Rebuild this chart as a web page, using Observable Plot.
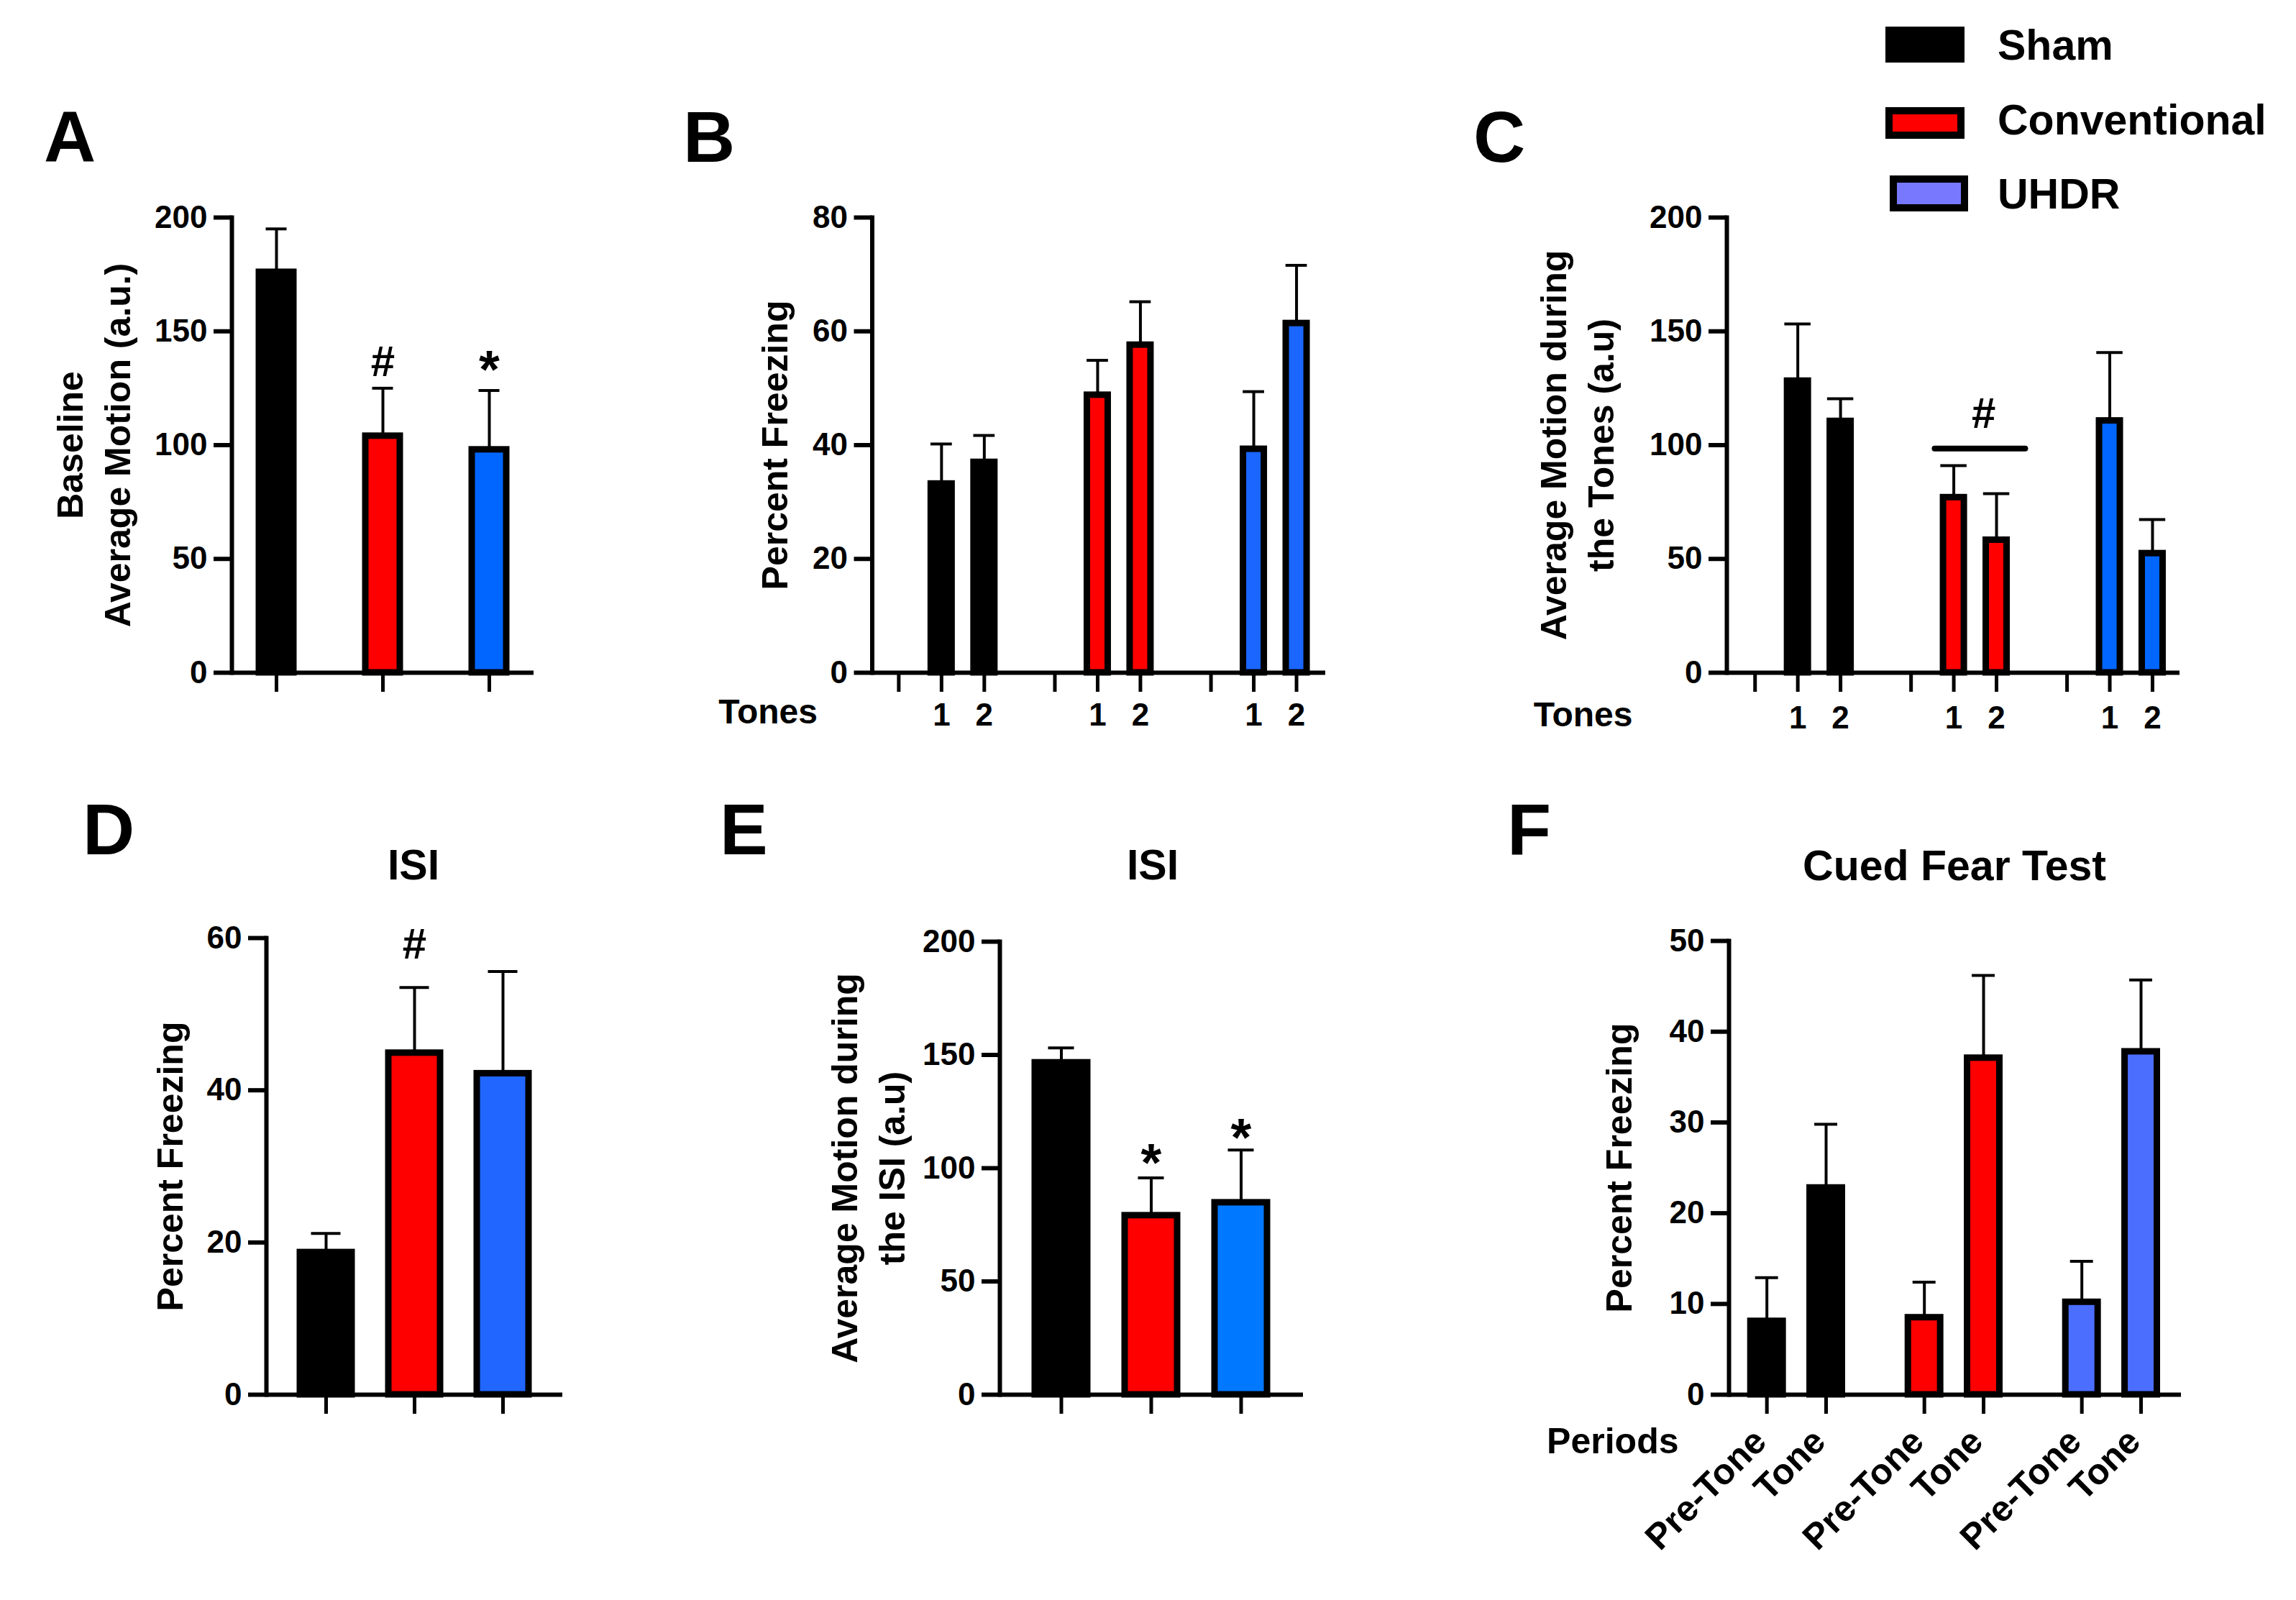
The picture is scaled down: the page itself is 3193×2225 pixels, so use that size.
<!DOCTYPE html>
<html lang="en">
<head>
    <meta charset="UTF-8">
    <script src="https://cdn.jsdelivr.net/npm/d3@7"></script>
    <script src="https://cdn.jsdelivr.net/npm/@observablehq/plot@0.6"></script>
    <title>Fear conditioning</title>
    <style>
        body { margin: 0; background: white; }
        #fig { position: relative; width: 3193px; height: 2225px; background: white; overflow: hidden;
               font-family: "Liberation Sans", Arial, sans-serif; font-weight: bold; color: black; }
        .letter { position: absolute; font-size: 100px; line-height: 1; }
        .title { position: absolute; font-size: 59px; line-height: 1; white-space: nowrap; transform: translate(-50%, -50%); }
        .key { position: absolute; box-sizing: border-box; border: 10px solid black; }
        .keylabel { position: absolute; font-size: 59px; line-height: 1; white-space: nowrap; transform: translateY(-50%); }
    </style>
</head>
<body>
<div id="fig"></div>
<script>
// ---- data ----
const groups = ["Sham", "Conventional", "UHDR"];
const tones = ["1", "2"];
const periods = ["Pre-Tone", "Tone"];

// A  baseline average motion
const baselineMean = [176, 104, 98];
const baselineErr = [19, 21, 26];
// B  percent freezing, tones 1-2 per group
const toneFreezeMean = [33.2, 37.0, 48.8, 57.6, 39.3, 61.4];
const toneFreezeErr = [7.0, 4.7, 6.1, 7.6, 10.1, 10.2];
// C  average motion during the tones
const toneMotionMean = [128.2, 110.5, 77.0, 58.3, 110.7, 52.4];
const toneMotionErr = [25.0, 9.9, 14.0, 20.4, 30.0, 14.9];
// D  ISI percent freezing
const isiFreezeMean = [18.7, 44.9, 42.2];
const isiFreezeErr = [2.5, 8.6, 13.4];
// E  ISI average motion
const isiMotionMean = [146.6, 79.1, 84.8];
const isiMotionErr = [6.5, 16.6, 23.2];
// F  cued fear test, pre-tone / tone per group
const cuedMean = [8.1, 22.8, 8.5, 37.1, 10.2, 37.8];
const cuedErr = [4.8, 7.0, 3.9, 9.1, 4.5, 7.9];

// significance marks (group, level in data units, symbol)
const sigA = {group: ["Conventional", "UHDR"], level: [136.5, 138.5], sym: ["#", "*"]};
const sigD = {group: ["Conventional"], level: [59.1], sym: ["#"]};
const sigE = {group: ["Conventional", "UHDR"], level: [107.8, 118.7], sym: ["*", "*"]};
const sigC = {level: 113.7, bar: 98.5};

const ticks200 = [0, 50, 100, 150, 200];
const ticks80 = [0, 20, 40, 60, 80];
const ticks60 = [0, 20, 40, 60];
const ticks50 = [0, 10, 20, 30, 40, 50];

// ---- styling ----
const FONT = "'Liberation Sans', Arial, sans-serif";
const RED = "#ff0000";
const paletteA = ["#000000", RED, "#0066ff"];
const paletteB = ["#000000", RED, "#1a66ff"];
const paletteD = ["#000000", RED, "#2166ff"];
const paletteE = ["#000000", RED, "#0078ff"];
const paletteF = ["#000000", RED, "#4b6eff"];
const legendColors = ["#000000", RED, "#7878ff"];

const fig = document.getElementById("fig");

function draw(box, frame, options) {
    const svg = Plot.plot({
        width: box.w,
        height: box.h,
        marginLeft: frame.l - box.x,
        marginRight: box.x + box.w - frame.r,
        marginTop: frame.t - box.y,
        marginBottom: box.y + box.h - frame.b,
        style: `font-family: ${FONT}; font-weight: bold; background: transparent; color: black; overflow: visible;`,
        color: {type: "identity"},
        ...options
    });
    svg.style.position = "absolute";
    svg.style.left = box.x + "px";
    svg.style.top = box.y + "px";
    fig.append(svg);
}

function yAxis(ticks, label, dx) {
    return [
        Plot.axisY(ticks, {tickSize: 25, tickPadding: 9, strokeWidth: 6, fontSize: 44, label: null}),
        Plot.frame({anchor: "left", strokeWidth: 6}),
        Plot.ruleY([0], {strokeWidth: 6}),
        Plot.text([label], {frameAnchor: "left", textAnchor: "middle", rotate: -90, dx, fontSize: 50, lineHeight: 1.33})
    ];
}

function sigMarks(sig) {
    const rows = sig.sym.map((s, i) => ({x: sig.group[i], y: sig.level[i], s}));
    return [
        Plot.text(rows.filter(d => d.s === "#"), {x: "x", y: "y", text: "s", fontSize: 60}),
        Plot.text(rows.filter(d => d.s === "*"), {x: "x", y: "y", text: "s", fontSize: 74, dy: 18})
    ];
}

// three bars on a band scale (A, D, E)
function bandPanel(box, frame, s) {
    const rows = groups.map((g, i) => ({
        group: g, mean: s.mean[i], top: s.mean[i] + s.err[i], color: s.palette[i]
    }));
    draw(box, frame, {
        x: {type: "band", domain: groups, paddingInner: s.pi, paddingOuter: s.po},
        y: {domain: [0, d3.max(s.ticks)]},
        marks: [
            Plot.ruleX(rows, {x: "group", y1: "mean", y2: "top", strokeWidth: 4}),
            Plot.tickY(rows, {x: "group", y: "top", strokeWidth: 4, inset: s.capInset}),
            Plot.barY(rows, {x: "group", y: "mean", fill: "color", stroke: "black", strokeWidth: 9}),
            ...yAxis(s.ticks, s.label, s.labelDx),
            Plot.axisX({tickSize: 27, strokeWidth: 5, tickFormat: () => "", label: null}),
            ...(s.sig ? sigMarks(s.sig) : [])
        ]
    });
}

// grouped bars on slot positions (B, C, F)
function slotPanel(box, frame, s) {
    const rows = [];
    const blanks = [];
    groups.forEach((g, gi) => {
        if (s.blank) blanks.push(gi * s.G);
        s.labels.forEach((lab, ti) => {
            const i = gi * s.labels.length + ti;
            const pos = gi * s.G + ti + (s.blank ? 1 : 0);
            rows.push({group: g, label: lab, pos, mean: s.mean[i], top: s.mean[i] + s.err[i], color: s.palette[gi]});
        });
    });
    const tickLabel = new Map(rows.map(d => [d.pos, d.label]));
    const tickPos = [...blanks, ...rows.map(d => d.pos)];
    draw(box, frame, {
        x: {type: "linear", domain: s.domain},
        y: {domain: [0, d3.max(s.ticks)]},
        marks: [
            Plot.ruleX(rows, {x: "pos", y1: "mean", y2: "top", strokeWidth: 4}),
            Plot.ruleY(rows, {y: "top", x1: d => d.pos - s.cap, x2: d => d.pos + s.cap, strokeWidth: 4}),
            Plot.rectY(rows, {x1: d => d.pos - s.hw, x2: d => d.pos + s.hw, y1: 0, y2: "mean",
                fill: "color", stroke: "black", strokeWidth: 9}),
            ...yAxis(s.ticks, s.label, s.labelDx),
            Plot.axisX(tickPos, {tickSize: 27, strokeWidth: 5, tickPadding: s.tickPadding ?? 15, fontSize: 44,
                tickFormat: s.rotate ? () => "" : (p => tickLabel.get(p) ?? ""), label: null}),
            ...(s.rotate ? [Plot.text(rows, {x: "pos", frameAnchor: "bottom", text: "label", rotate: -45,
                textAnchor: "end", dx: 2, dy: 68, fontSize: 50})] : []),
            Plot.text([s.rowLabel], {frameAnchor: "bottom-left", textAnchor: "end", dx: s.rowDx, dy: s.rowDy,
                fontSize: s.rowFont}),
            ...(s.extra ? s.extra(rows) : [])
        ]
    });
}

// ---- panels ----
bandPanel({x: 0, y: 0, w: 960, h: 1090}, {l: 322, r: 742, t: 302, b: 935}, {
    mean: baselineMean, err: baselineErr, palette: paletteA, ticks: ticks200,
    pi: 0.675, po: 0.252, capInset: 9.5,
    label: "Baseline\nAverage Motion (a.u.)", labelDx: -196, sig: sigA
});

slotPanel({x: 960, y: 0, w: 1000, h: 1090}, {l: 1212.5, r: 1843, t: 302, b: 935}, {
    mean: toneFreezeMean, err: toneFreezeErr, palette: paletteB, ticks: ticks80,
    labels: tones, blank: true, G: 3.65, domain: [-0.62, 9.98], hw: 0.244, cap: 0.25,
    label: "Percent Freezing", labelDx: -139,
    rowLabel: "Tones", rowDx: -76, rowDy: 70, rowFont: 48
});

slotPanel({x: 1960, y: 0, w: 1233, h: 1090}, {l: 2401, r: 3031, t: 302, b: 935}, {
    mean: toneMotionMean, err: toneMotionErr, palette: paletteA, ticks: ticks200,
    labels: tones, blank: true, G: 3.65, domain: [-0.66, 9.94], hw: 0.244, cap: 0.307, tickPadding: 19,
    label: "Average Motion during\nthe Tones (a.u)", labelDx: -212,
    rowLabel: "Tones", rowDx: -131, rowDy: 74, rowFont: 48,
    extra: rows => {
        const conv = rows.filter(d => d.group === "Conventional");
        return [
            Plot.ruleY([sigC.bar], {x1: conv[0].pos - 0.44, x2: conv[1].pos + 0.68, strokeWidth: 8, strokeLinecap: "round"}),
            Plot.text(["#"], {x: conv[0].pos + 0.7, y: sigC.level, fontSize: 60})
        ];
    }
});

bandPanel({x: 0, y: 1090, w: 960, h: 1135}, {l: 370, r: 782, t: 1304, b: 1939}, {
    mean: isiFreezeMean, err: isiFreezeErr, palette: paletteD, ticks: ticks60,
    pi: 0.417, po: 0.372, capInset: 15.5,
    label: "Percent Freezing", labelDx: -138, sig: sigD
});

bandPanel({x: 960, y: 1090, w: 1000, h: 1135}, {l: 1390, r: 1812, t: 1309, b: 1939}, {
    mean: isiMotionMean, err: isiMotionErr, palette: paletteE, ticks: ticks200,
    pi: 0.415, po: 0.395, capInset: 18.5,
    label: "Average Motion during\nthe ISI (a.u)", labelDx: -187, sig: sigE
});

slotPanel({x: 1960, y: 1090, w: 1233, h: 1135}, {l: 2404, r: 3033, t: 1308, b: 1939}, {
    mean: cuedMean, err: cuedErr, palette: paletteF, ticks: ticks50,
    labels: periods, blank: false, G: 2.66, domain: [-0.64, 7.0], hw: 0.273, cap: 0.194, rotate: true,
    label: "Percent Freezing", labelDx: -157,
    rowLabel: "Periods", rowDx: -70, rowDy: 81, rowFont: 50
});

// ---- panel letters, titles, legend ----
function addDiv(cls, text, css) {
    const d = document.createElement("div");
    d.className = cls;
    d.textContent = text;
    Object.assign(d.style, css);
    fig.append(d);
    return d;
}

[["A", 61, 140], ["B", 950, 140], ["C", 2049, 140], ["D", 115, 1103], ["E", 1001, 1103], ["F", 2096, 1103]]
    .forEach(([t, x, y]) => addDiv("letter", t, {left: x + "px", top: y + "px"}));

[["ISI", 575, 1203], ["ISI", 1603, 1203], ["Cued Fear Test", 2718, 1204]]
    .forEach(([t, x, y]) => addDiv("title", t, {left: x + "px", top: y + "px"}));

const keyBoxes = [
    {x: 2622, y: 37, w: 110, h: 50},
    {x: 2622, y: 149, w: 110, h: 44},
    {x: 2628, y: 244, w: 109, h: 50}
];
const keyCenters = [63, 167, 270];
groups.forEach((g, i) => {
    const b = keyBoxes[i];
    addDiv("key", "", {left: b.x + "px", top: b.y + "px", width: b.w + "px", height: b.h + "px", background: legendColors[i]});
    addDiv("keylabel", g, {left: "2778px", top: keyCenters[i] + "px"});
});
</script>
</body>
</html>
